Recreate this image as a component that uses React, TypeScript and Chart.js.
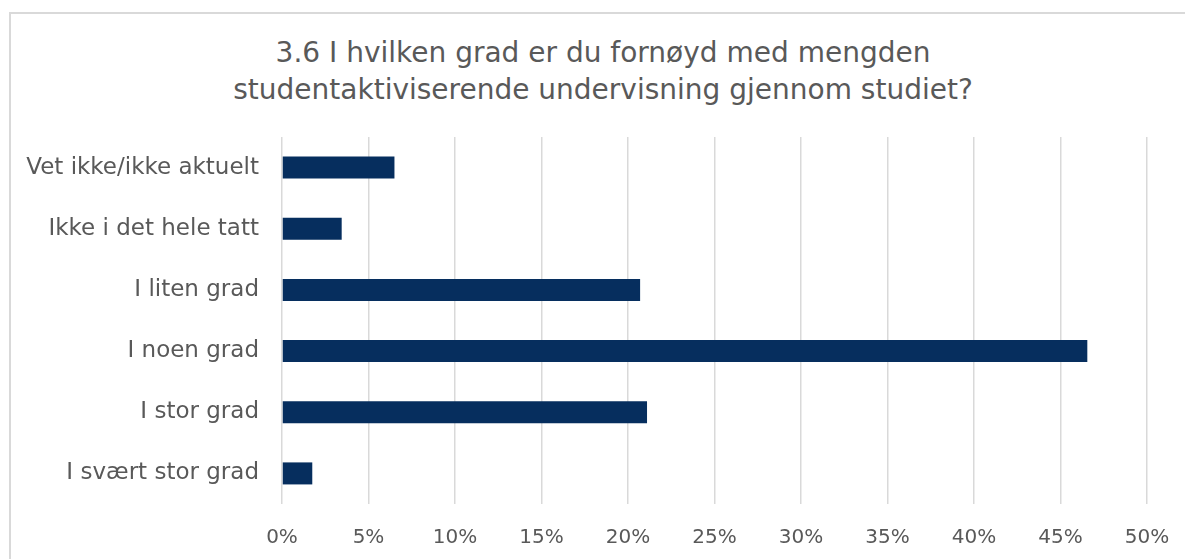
import React, { useEffect, useRef } from "react";
import { Chart, registerables } from "chart.js";

Chart.register(...registerables);

const titleLines = [
  "3.6 I hvilken grad er du fornøyd med mengden",
  "studentaktiviserende undervisning gjennom studiet?",
];
const categories = [
  "Vet ikke/ikke aktuelt",
  "Ikke i det hele tatt",
  "I liten grad",
  "I noen grad",
  "I stor grad",
  "I svært stor grad",
];
const values = [6.5, 3.45, 20.7, 46.55, 21.1, 1.75];
const xMin = 0;
const xMax = 50;
const xStep = 5;

const FONT = "'DejaVu Sans', sans-serif";
const TEXT = "#595959";
const W = 1185;
const H = 559;

export default function App() {
  const ref = useRef<HTMLCanvasElement | null>(null);

  useEffect(() => {
    if (!ref.current) return;
    const chart = new Chart(ref.current, {
      type: "bar",
      data: {
        labels: categories,
        datasets: [
          {
            data: values,
            backgroundColor: "#062E5E",
            borderWidth: 0,
            barPercentage: 0.36,
            categoryPercentage: 1,
          },
        ],
      },
      options: {
        indexAxis: "y",
        animation: false,
        responsive: false,
        devicePixelRatio: 1,
        layout: { padding: { top: 137, right: 38, bottom: 0, left: 0 } },
        plugins: {
          legend: { display: false },
          title: { display: false },
          tooltip: { enabled: false },
        },
        scales: {
          x: {
            min: xMin,
            max: xMax,
            afterFit: (scale: any) => {
              scale.height = 55;
              scale.paddingLeft = 0;
              scale.paddingRight = 0;
            },
            ticks: {
              stepSize: xStep,
              padding: 22,
              maxRotation: 0,
              color: TEXT,
              font: { family: FONT, size: 20 },
              callback: (v: any) => `${v}%`,
            },
            grid: { color: "#d9d9d9", lineWidth: 1.5, drawTicks: false },
            border: { display: false },
          },
          y: {
            afterFit: (scale: any) => {
              scale.width = 282;
              scale.paddingTop = 0;
              scale.paddingBottom = 0;
            },
            ticks: {
              padding: 23,
              color: TEXT,
              font: { family: FONT, size: 23 },
            },
            grid: { display: false, drawTicks: false },
            border: { display: false },
          },
        },
      },
    });
    return () => chart.destroy();
  }, []);

  return (
    <div
      style={{
        position: "fixed",
        left: 0,
        top: 0,
        width: W,
        height: H,
        overflow: "hidden",
        background: "#fff",
      }}
    >
      <div
        style={{
          position: "absolute",
          left: 9,
          top: 12,
          width: W - 9,
          height: H - 12,
          borderTop: "2px solid #d9d9d9",
          borderLeft: "2px solid #d9d9d9",
          boxSizing: "border-box",
        }}
      />
      <div
        style={{
          position: "absolute",
          left: 0,
          top: 34,
          width: 1206,
          textAlign: "center",
          fontFamily: FONT,
          fontSize: 28,
          lineHeight: "37px",
          color: TEXT,
          whiteSpace: "nowrap",
        }}
      >
        {titleLines.map((l, i) => (
          <div key={i}>{l}</div>
        ))}
      </div>
      <canvas
        ref={ref}
        width={W}
        height={H}
        style={{ position: "absolute", left: 0, top: 0, width: W, height: H }}
      />
    </div>
  );
}
